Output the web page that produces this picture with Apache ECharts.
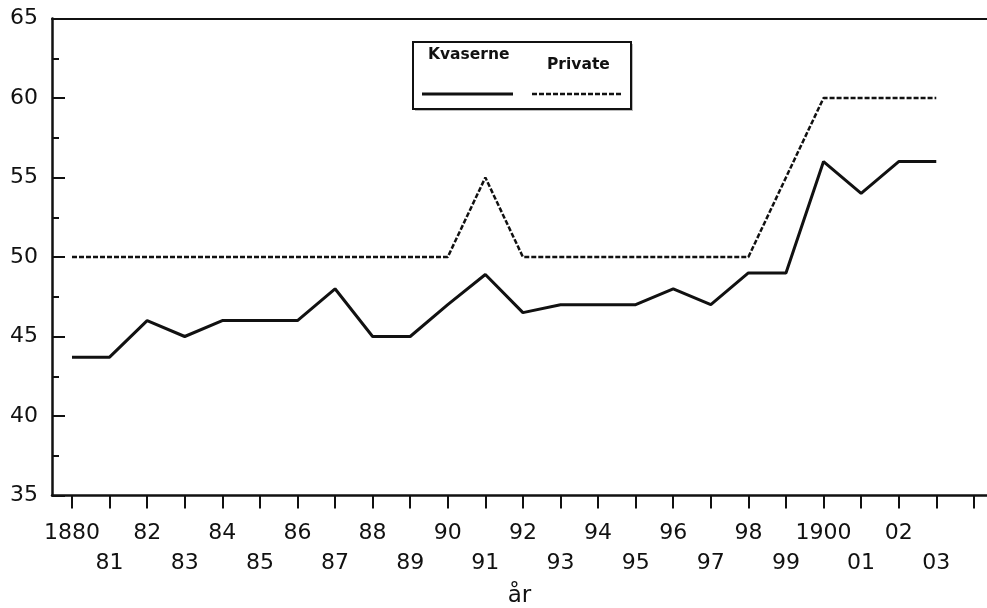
<!DOCTYPE html>
<html>
<head>
<meta charset="utf-8">
<script src="https://cdn.jsdelivr.net/npm/echarts@6/dist/echarts.min.js"></script>
<style>
  html, body { margin: 0; padding: 0; background: #fff; }
  #chart { width: 987px; height: 608px; }
</style>
</head>
<body>
<div id="chart"></div>
<script>
// år
var years = [1880, 1881, 1882, 1883, 1884, 1885, 1886, 1887, 1888, 1889, 1890, 1891,
             1892, 1893, 1894, 1895, 1896, 1897, 1898, 1899, 1900, 1901, 1902, 1903];
var kvaserne = [43.7, 43.7, 46, 45, 46, 46, 46, 48, 45, 45, 47, 48.9,
                46.5, 47, 47, 47, 48, 47, 49, 49, 56, 54, 56, 56];
var privat = [50, 50, 50, 50, 50, 50, 50, 50, 50, 50, 50, 55,
              50, 50, 50, 50, 50, 50, 50, 55, 60, 60, 60, 60];
var tickYears = [1880, 1881, 1882, 1883, 1884, 1885, 1886, 1887, 1888, 1889, 1890, 1891, 1892,
                 1893, 1894, 1895, 1896, 1897, 1898, 1899, 1900, 1901, 1902, 1903, 1904];
var yearLabels = ['1880', '81', '82', '83', '84', '85', '86', '87', '88', '89', '90', '91',
                  '92', '93', '94', '95', '96', '97', '98', '99', '1900', '01', '02', '03'];

var chart = echarts.init(document.getElementById('chart'));
var font = 'DejaVu Sans';
var xMin = 1879.468, xMax = 1904.35;

function pairs(vals) {
    return years.map(function (y, i) { return [y, vals[i]]; });
}
// even years on the first label row, odd years on the second
var evenYears = years.filter(function (y) { return y % 2 === 0; });
var oddYears = years.filter(function (y) { return y % 2 === 1; });
function yearText(v) {
    return yearLabels[years.indexOf(Math.round(v))];
}
var labelStyle = { fontFamily: font, fontSize: 22, color: '#111', formatter: yearText,
                   showMinLabel: true, showMaxLabel: true };

var option = {
    backgroundColor: '#fff',
    animation: false,
    grid: { left: 52, top: 18.5, right: 0, bottom: 112.5, outerBoundsMode: 'none' },
    xAxis: [{
        type: 'value',
        min: xMin,
        max: xMax,
        name: 'år',
        nameLocation: 'middle',
        nameGap: 89,
        nameTextStyle: { fontFamily: font, fontSize: 23, color: '#111' },
        axisLine: { lineStyle: { color: '#111', width: 2.5 } },
        axisTick: { customValues: tickYears, length: 13, lineStyle: { color: '#111', width: 2 } },
        axisLabel: Object.assign({ customValues: evenYears, margin: 27 }, labelStyle),
        splitLine: { show: false }
    }, {
        type: 'value',
        position: 'bottom',
        min: xMin,
        max: xMax,
        axisLine: { show: false },
        axisTick: { show: false },
        axisLabel: Object.assign({ customValues: oddYears, margin: 57 }, labelStyle),
        splitLine: { show: false }
    }, {
        type: 'value',
        position: 'top',
        min: xMin,
        max: xMax,
        axisLine: { lineStyle: { color: '#111', width: 2 } },
        axisTick: { show: false },
        axisLabel: { show: false },
        splitLine: { show: false }
    }],
    yAxis: {
        type: 'value',
        min: 35,
        max: 65,
        interval: 5,
        axisLine: { show: true, lineStyle: { color: '#111', width: 2.5 } },
        axisTick: { inside: true, length: 13, lineStyle: { color: '#111', width: 2 } },
        minorTick: { show: true, splitNumber: 2, length: 7, lineStyle: { color: '#111', width: 2 } },
        axisLabel: { margin: 14, fontFamily: font, fontSize: 22, color: '#111' },
        splitLine: { show: false }
    },
    series: [{
        name: 'Kvaserne',
        type: 'line',
        data: pairs(kvaserne),
        symbol: 'none',
        lineStyle: { color: '#111', width: 3 }
    }, {
        name: 'Private',
        type: 'line',
        data: pairs(privat),
        symbol: 'none',
        lineStyle: { color: '#111', width: 2.5, type: [5, 2] }
    }],
    graphic: [
        { type: 'rect', shape: { x: 415, y: 44, width: 218, height: 67 },
          style: { fill: '#bbb', stroke: null } },
        { type: 'rect', shape: { x: 413, y: 42, width: 218, height: 67 },
          style: { fill: '#fff', stroke: '#111', lineWidth: 2 } },
        { type: 'text', x: 428, y: 47,
          style: { text: 'Kvaserne', font: 'bold 15.5px "DejaVu Sans"', fill: '#111' } },
        { type: 'text', x: 547, y: 57,
          style: { text: 'Private', font: 'bold 15.5px "DejaVu Sans"', fill: '#111' } },
        { type: 'line', shape: { x1: 422, y1: 94, x2: 513, y2: 94 },
          style: { stroke: '#111', lineWidth: 3 } },
        { type: 'line', shape: { x1: 532, y1: 94, x2: 621, y2: 94 },
          style: { stroke: '#111', lineWidth: 2.5, lineDash: [5, 2] } }
    ]
};

chart.setOption(option);
</script>
</body>
</html>
